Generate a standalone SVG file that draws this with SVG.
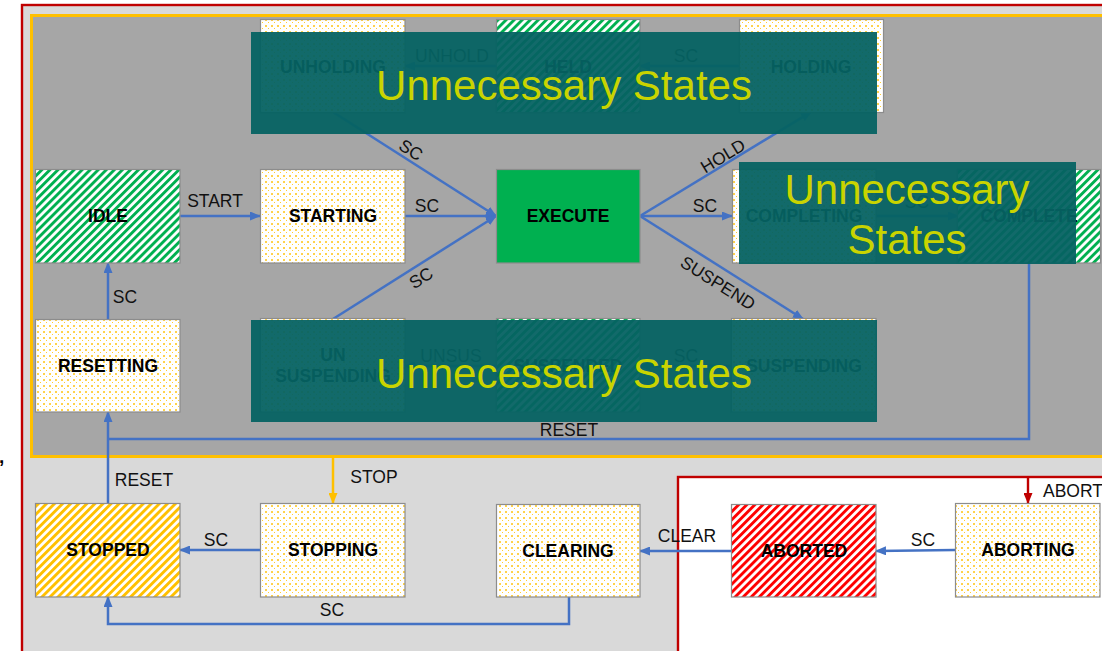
<svg xmlns="http://www.w3.org/2000/svg" width="1102" height="651" viewBox="0 0 1102 651">
<style>
.nl{font-family:"Liberation Sans",Arial,sans-serif;font-weight:bold;font-size:17.5px;text-anchor:middle;fill:#000}
.el{font-family:"Liberation Sans",Arial,sans-serif;font-size:17.5px;text-anchor:middle;fill:#111}
.box{stroke:#8C8C8C;stroke-width:1.2}
.c{fill:none;stroke:#4472C4;stroke-width:2.5}
.ov{fill:#056262;fill-opacity:0.95}
.ot{font-family:"Liberation Sans",Arial,sans-serif;font-size:42px;text-anchor:middle;fill:#C9D400}
</style>
<defs>
<pattern id="gs" width="5.7" height="5.7" patternUnits="userSpaceOnUse" patternTransform="rotate(45)"><rect width="5.7" height="5.7" fill="#fff"/><rect width="2.9" height="5.7" fill="#00B050"/></pattern>
<pattern id="rs" width="5.7" height="5.7" patternUnits="userSpaceOnUse" patternTransform="rotate(45)"><rect width="5.7" height="5.7" fill="#fff"/><rect width="2.9" height="5.7" fill="#FF0000"/></pattern>
<pattern id="ys" width="5.7" height="5.7" patternUnits="userSpaceOnUse" patternTransform="rotate(45)"><rect width="5.7" height="5.7" fill="#fff"/><rect width="2.9" height="5.7" fill="#FFC000"/></pattern>
<pattern id="dt" x="0" y="0" width="6" height="6" patternUnits="userSpaceOnUse"><rect width="6" height="6" fill="#fff"/><rect x="1" y="1" width="2" height="2" fill="#FFC000" fill-opacity="0.7"/><rect x="4" y="4" width="1" height="1" fill="#FFC000" fill-opacity="0.8"/></pattern>
<marker id="ab" markerWidth="11" markerHeight="9" refX="10" refY="4.5" orient="auto" markerUnits="userSpaceOnUse"><path d="M0,0 L11,4.5 L0,9 z" fill="#4472C4"/></marker>
<marker id="ay" markerWidth="11" markerHeight="9" refX="10" refY="4.5" orient="auto" markerUnits="userSpaceOnUse"><path d="M0,0 L11,4.5 L0,9 z" fill="#FFC000"/></marker>
<marker id="ar" markerWidth="11" markerHeight="9" refX="10" refY="4.5" orient="auto" markerUnits="userSpaceOnUse"><path d="M0,0 L11,4.5 L0,9 z" fill="#C00000"/></marker>
</defs>
<rect width="1102" height="651" fill="#fff"/>
<g id="regions">
<rect x="22" y="5" width="1100" height="660" fill="#D9D9D9" stroke="#C00000" stroke-width="2.4"/>
<rect x="31.5" y="15.5" width="1090" height="441" fill="#A6A6A6" stroke="#FFC000" stroke-width="3"/>
<rect x="678" y="477" width="440" height="200" fill="#fff" stroke="#C00000" stroke-width="2.4"/>
</g>
<text x="-1" y="463" class="nl" style="text-anchor:start;font-size:19px">,</text>
<g id="connectors">
<line class="c" x1="180" y1="216" x2="260" y2="216" marker-end="url(#ab)"/>
<text class="el" x="215" y="207">START</text>
<line class="c" x1="405" y1="216" x2="496" y2="216" marker-end="url(#ab)"/>
<text class="el" x="427" y="212">SC</text>
<line class="c" x1="333" y1="112" x2="496" y2="216" marker-end="url(#ab)"/>
<text class="el" transform="translate(411,150) rotate(32.5)" y="6">SC</text>
<line class="c" x1="333" y1="319" x2="496" y2="216" marker-end="url(#ab)"/>
<text class="el" transform="translate(421,278) rotate(-32.3)" y="6">SC</text>
<line class="c" x1="640" y1="216" x2="811" y2="112" marker-end="url(#ab)"/>
<text class="el" transform="translate(723,156) rotate(-31.3)" y="6">HOLD</text>
<line class="c" x1="640" y1="216" x2="732" y2="216" marker-end="url(#ab)"/>
<text class="el" x="705" y="212">SC</text>
<line class="c" x1="640" y1="216" x2="803" y2="319" marker-end="url(#ab)"/>
<text class="el" transform="translate(718,283) rotate(32.3)" y="6">SUSPEND</text>
<line class="c" x1="876" y1="216" x2="958" y2="216" marker-end="url(#ab)"/>
<text class="el" x="917" y="208">SC</text>
<line class="c" x1="739" y1="66" x2="640" y2="66" marker-end="url(#ab)"/>
<text class="el" x="686" y="62">SC</text>
<line class="c" x1="496" y1="66" x2="405" y2="66" marker-end="url(#ab)"/>
<text class="el" x="452" y="62">UNHOLD</text>
<line class="c" x1="732" y1="366" x2="640" y2="366" marker-end="url(#ab)"/>
<text class="el" x="686" y="362">SC</text>
<line class="c" x1="496" y1="366" x2="405" y2="366" marker-end="url(#ab)"/>
<text class="el" x="451" y="362">UNSUS</text>
<line class="c" x1="108" y1="319" x2="108" y2="263" marker-end="url(#ab)"/>
<text class="el" x="125" y="303">SC</text>
<polyline class="c" points="1029,263 1029,439 108,439"/>
<line class="c" x1="108" y1="503" x2="108" y2="412" marker-end="url(#ab)"/>
<text class="el" x="569" y="436">RESET</text>
<text class="el" x="144" y="486">RESET</text>
<line x1="333" y1="457" x2="333" y2="503" stroke="#FFC000" stroke-width="2.5" marker-end="url(#ay)"/>
<text class="el" x="374" y="483">STOP</text>
<line class="c" x1="260" y1="550" x2="180" y2="550" marker-end="url(#ab)"/>
<text class="el" x="216" y="546">SC</text>
<polyline class="c" points="569,597 569,624 108,624 108,597" marker-end="url(#ab)"/>
<text class="el" x="332" y="616">SC</text>
<line class="c" x1="731" y1="551" x2="640" y2="551" marker-end="url(#ab)"/>
<text class="el" x="687" y="542">CLEAR</text>
<line class="c" x1="955" y1="550" x2="876" y2="551" marker-end="url(#ab)"/>
<text class="el" x="923" y="546">SC</text>
<line x1="1028" y1="477" x2="1028" y2="503" stroke="#C00000" stroke-width="2.4" marker-end="url(#ar)"/>
<text class="el" x="1043" y="497" style="text-anchor:start">ABORT</text>
</g>
<g id="idle"><rect class="box" x="35.5" y="169.5" width="144.5" height="93.5" fill="url(#gs)"/><text class="nl" x="108" y="222">IDLE</text></g>
<g id="starting"><rect class="box" x="260.5" y="169.5" width="144.5" height="93.5" fill="url(#dt)"/><text class="nl" x="333" y="222">STARTING</text></g>
<g id="execute"><rect class="box" x="496.5" y="169.5" width="143.5" height="93.5" fill="#00B050"/><text class="nl" x="568" y="222">EXECUTE</text></g>
<g id="completing"><rect class="box" x="732.5" y="169.5" width="143.5" height="93.5" fill="url(#dt)"/><text class="nl" x="804" y="222">COMPLETING</text></g>
<g id="complete"><rect class="box" x="957.5" y="169.5" width="143" height="93.5" fill="url(#gs)"/><text class="nl" x="1029" y="222">COMPLETE</text></g>
<g id="resetting"><rect class="box" x="35.5" y="319.5" width="144.5" height="92.5" fill="url(#dt)"/><text class="nl" x="108" y="372">RESETTING</text></g>
<g id="unholding"><rect class="box" x="260.5" y="19.5" width="144.5" height="93" fill="url(#dt)"/><text class="nl" x="333" y="73">UNHOLDING</text></g>
<g id="held"><rect class="box" x="496.5" y="19.5" width="143.5" height="93" fill="url(#gs)"/><text class="nl" x="568" y="73">HELD</text></g>
<g id="holding"><rect class="box" x="739.5" y="19.5" width="144" height="93" fill="url(#dt)"/><text class="nl" x="811" y="73">HOLDING</text></g>
<g id="unsuspending"><rect class="box" x="260.5" y="318.5" width="144.5" height="93.5" fill="url(#dt)"/><text class="nl" x="333" y="361">UN</text><text class="nl" x="333" y="382">SUSPENDING</text></g>
<g id="suspended"><rect class="box" x="496.5" y="318.5" width="143.5" height="93.5" fill="url(#gs)"/><text class="nl" x="568" y="372">SUSPENDED</text></g>
<g id="suspending"><rect class="box" x="731.5" y="318.5" width="144.5" height="93.5" fill="url(#dt)"/><text class="nl" x="804" y="372">SUSPENDING</text></g>
<g id="stopped"><rect class="box" x="35.5" y="503.5" width="144.5" height="93.5" fill="url(#ys)"/><text class="nl" x="108" y="556">STOPPED</text></g>
<g id="stopping"><rect class="box" x="260.5" y="503.5" width="144.5" height="93.5" fill="url(#dt)"/><text class="nl" x="333" y="556">STOPPING</text></g>
<g id="clearing"><rect class="box" x="496.5" y="504.5" width="143.5" height="92.5" fill="url(#dt)"/><text class="nl" x="568" y="557">CLEARING</text></g>
<g id="aborted"><rect class="box" x="731.5" y="504.5" width="144.5" height="92.5" fill="url(#rs)"/><text class="nl" x="804" y="557">ABORTED</text></g>
<g id="aborting"><rect class="box" x="955.5" y="503.5" width="144.5" height="93.5" fill="url(#dt)"/><text class="nl" x="1028" y="556">ABORTING</text></g>
<g id="overlay-top"><rect class="ov" x="251" y="32" width="626" height="102"/><text class="ot" x="564" y="100">Unnecessary States</text></g>
<g id="overlay-right"><rect class="ov" x="739" y="162" width="337" height="102"/><text class="ot" x="907" y="204">Unnecessary</text><text class="ot" x="907" y="254">States</text></g>
<g id="overlay-bottom"><rect class="ov" x="251" y="320" width="626" height="102"/><text class="ot" x="564" y="388">Unnecessary States</text></g>
</svg>
